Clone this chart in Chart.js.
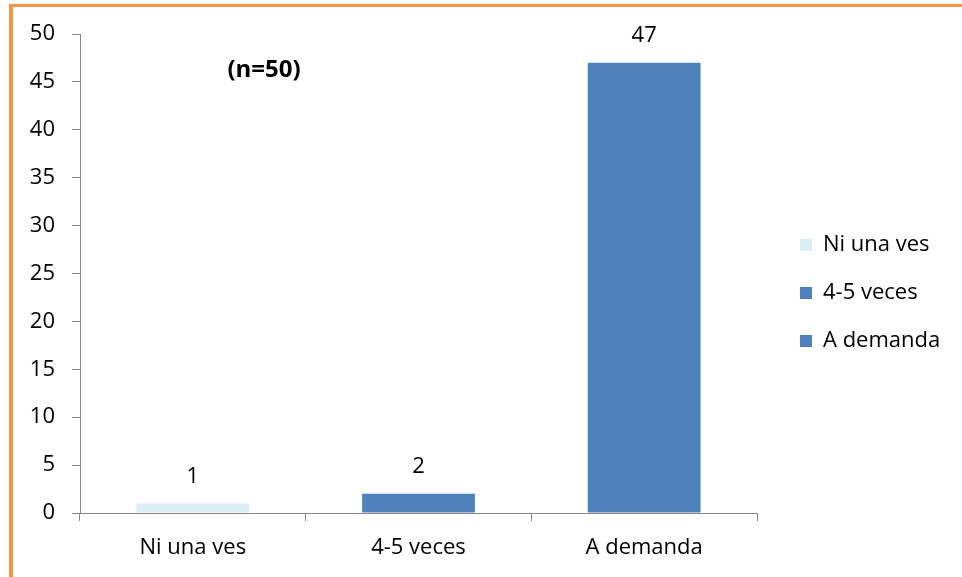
<!DOCTYPE html>
<html>
<head>
<meta charset="utf-8">
<script src="https://cdn.jsdelivr.net/npm/chart.js@4/dist/chart.umd.min.js"></script>
<style>
  html, body { margin: 0; padding: 0; background: #fff; }
  #frame {
    position: absolute; left: 9px; top: 4px; width: 949px; height: 570px;
    border-top: 3px solid #F79646; border-left: 4px solid #F79646;
  }
  #wrap { position: absolute; left: 0; top: 0; width: 949px; height: 570px; }
</style>
</head>
<body>
<div id="frame"><div id="wrap"><canvas id="chart"></canvas></div></div>
<script>
// DATA TO DISPLAY
const categories = ["Ni una ves", "4-5 veces", "A demanda"];
const values = [1, 2, 47];
const barColors = ["#DBEEF4", "#4F81BD", "#4F81BD"];
const yTicks = [0, 5, 10, 15, 20, 25, 30, 35, 40, 45, 50];
const note = "(n=50)";

const FONT = "'Open Sans', sans-serif";
const FS = 22;
Chart.defaults.font.family = FONT;
Chart.defaults.font.size = FS;
Chart.defaults.color = "#000";

// value labels above bars, the (n=50) note and the legend on the right
const labelsPlugin = {
  id: "valueLabels",
  afterDatasetsDraw(chart) {
    const ctx = chart.ctx;
    const a = chart.chartArea;
    const meta = chart.getDatasetMeta(0);
    ctx.save();
    ctx.font = FS + "px " + FONT;
    ctx.fillStyle = "#000";
    ctx.textAlign = "center";
    ctx.textBaseline = "middle";
    meta.data.forEach((bar, i) => {
      ctx.fillText(String(values[i]), bar.x, bar.y - 27);
    });

    ctx.font = "bold 24px " + FONT;
    ctx.fillText(note, a.left + 184, a.top + 36);

    // legend
    ctx.font = FS + "px " + FONT;
    ctx.textAlign = "left";
    categories.forEach((c, i) => {
      const x = a.right + 43;
      const y = a.top + 211 + i * 48;
      ctx.fillStyle = barColors[i];
      ctx.fillRect(x, y - 6, 12, 12);
      ctx.fillStyle = "#000";
      ctx.fillText(c, x + 23, y);
    });
    ctx.restore();
  }
};

const cfg = {
  type: "bar",
  data: {
    labels: categories,
    datasets: [{
      data: values,
      backgroundColor: barColors,
      borderWidth: 0,
      barPercentage: 0.5,
      categoryPercentage: 1
    }]
  },
  options: {
    responsive: true,
    maintainAspectRatio: false,
    animation: false,
    layout: { padding: { top: 27, right: 205, bottom: 0, left: 0 } },
    plugins: {
      tooltip: { enabled: false },
      legend: { display: false }
    },
    scales: {
      y: {
        min: 0,
        max: 50,
        afterBuildTicks: s => { s.ticks = yTicks.map(v => ({ value: v })); },
        afterFit: s => { s.width = 67; s.paddingTop = 0; s.paddingBottom = 0; },
        grid: { drawOnChartArea: false, color: "#888", tickLength: 8, tickColor: "#888" },
        border: { color: "#888", width: 1 },
        ticks: { padding: 17, font: { size: FS } }
      },
      x: {
        offset: true,
        afterFit: s => { s.height = 64; },
        grid: { drawOnChartArea: false, offset: true, color: "#888", tickLength: 8, tickColor: "#888" },
        border: { color: "#888", width: 1 },
        ticks: { padding: 14, font: { size: FS } }
      }
    }
  },
  plugins: [labelsPlugin]
};

new Chart(document.getElementById("chart"), cfg);
</script>
</body>
</html>
